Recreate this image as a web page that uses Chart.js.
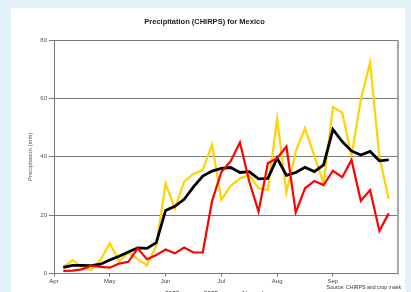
<!DOCTYPE html>
<html>
<head>
<meta charset="utf-8">
<script src="https://cdn.jsdelivr.net/npm/chart.js@4"></script>
<style>
html,body{margin:0;padding:0;overflow:hidden;background:#e1f0f9;}
#wrap{width:411px;height:292px;overflow:hidden;}
canvas{display:block;}
</style>
</head>
<body>
<div id="wrap"><canvas id="c" width="411" height="310"></canvas></div>
<script>
// pentad positions (1..36) from early April to end of September
const pentads = [1,2,3,4,5,6,7,8,9,10,11,12,13,14,15,16,17,18,19,20,21,22,23,24,25,26,27,28,29,30,31,32,33,34,35,36];
const monthTicks = [0,6,12,18,24,30];
const monthLabels = ['Apr','May','Jun','Jul','Aug','Sep'];
const yTicks = [0,20,40,60,80];

const rain2023 = [0.9,1.0,1.4,2.7,2.3,2.0,3.4,4.0,8.6,4.9,6.3,8.2,6.9,8.9,7.2,7.2,24.8,34.8,38.5,44.9,31.5,21.2,37.8,39.5,43.5,20.9,29.2,31.7,30.3,35.2,33.0,38.9,24.9,28.6,14.6,20.6];
const rain2022 = [2.3,4.6,2.2,1.2,4.6,10.4,4.2,7.1,5.0,2.8,9.5,30.9,22.2,31.5,34.1,35.5,44.1,25.2,30.0,32.6,33.8,29.2,28.6,53.0,27.8,41.8,49.8,40.3,30.9,57.0,55.1,40.3,59.5,72.3,40.0,25.5];
const rainNormal = [2.1,2.8,2.8,2.7,3.2,4.6,5.9,7.4,8.8,8.6,10.6,21.6,23.0,25.4,29.7,33.4,35.1,36.0,36.3,34.6,34.9,32.4,32.6,39.5,33.6,34.6,36.4,34.9,37.2,49.4,45.2,42.0,40.6,41.8,38.6,38.9];

const toXY = arr => arr.map((v,i)=>({x:pentads[i], y:v}));

Chart.defaults.font.family = "'Liberation Sans', Arial, sans-serif";

const bgPlugin = {
  id:'bg',
  beforeDraw(chart){
    const ctx = chart.ctx;
    ctx.save();
    ctx.fillStyle = '#e1f0f9';
    ctx.fillRect(0,0,chart.width,chart.height);
    ctx.fillStyle = '#ffffff';
    ctx.fillRect(11,8,394,chart.height-8);
    ctx.restore();
  },
  afterDraw(chart){
    const ctx = chart.ctx, a = chart.chartArea;
    ctx.save();
    ctx.strokeStyle = '#a8a8a8';
    ctx.lineWidth = 2;
    ctx.beginPath();
    ctx.moveTo(a.right, a.top);
    ctx.lineTo(a.right, a.bottom+1);
    ctx.stroke();
    ctx.fillStyle = '#333';
    ctx.font = "5.2px 'Liberation Sans', Arial, sans-serif";
    ctx.textAlign = 'right';
    ctx.textBaseline = 'middle';
    ctx.fillText('Source: CHIRPS and crop mask', 401, 288);
    ctx.restore();
  }
};

new Chart(document.getElementById('c'), {
  type:'line',
  data:{
    datasets:[
      {label:'2023', data:toXY(rain2023), borderColor:'#ff0000', backgroundColor:'#ff0000', borderWidth:2.2, pointRadius:0, tension:0, order:0},
      {label:'2022', data:toXY(rain2022), borderColor:'#ffd200', backgroundColor:'#ffd200', borderWidth:2.2, pointRadius:0, tension:0, order:2},
      {label:'Normal', data:toXY(rainNormal), borderColor:'#000000', backgroundColor:'#000000', borderWidth:2.8, pointRadius:0, tension:0, order:1}
    ]
  },
  options:{
    responsive:false,
    animation:false,
    layout:{padding:{left:11,right:13,top:14,bottom:2.5}},
    plugins:{
      title:{display:true, text:'Precipitation (CHIRPS) for Mexico', color:'#222', font:{size:7.5, weight:'bold'}, padding:{top:3.5, bottom:13.5}},
      legend:{position:'bottom', labels:{boxWidth:16, boxHeight:1, padding:5, color:'#222', font:{size:6.5}, sort:(a,b)=>a.datasetIndex-b.datasetIndex}},
      tooltip:{enabled:false}
    },
    scales:{
      x:{
        type:'linear', min:0, max:37,
        afterBuildTicks(s){ s.ticks = monthTicks.map(v=>({value:v})); },
        afterFit(s){ s.height = 12.5; },
        ticks:{callback:(v)=>monthLabels[monthTicks.indexOf(v)], color:'#444', font:{size:6}, padding:1, maxRotation:0, autoSkip:false},
        grid:{drawOnChartArea:false, drawTicks:true, tickLength:3, color:'#777'},
        border:{display:true, color:'#777', width:1}
      },
      y:{
        min:0, max:80,
        afterBuildTicks(s){ s.ticks = yTicks.map(v=>({value:v})); },
        afterFit(s){ s.width = 43; },
        ticks:{color:'#555', font:{size:6}, padding:2},
        grid:{color:'#7a7a7a', lineWidth:1, tickLength:5, tickColor:'#7a7a7a'},
        border:{display:true, color:'#777', width:1},
        title:{display:true, text:'Precipitation (mm)', color:'#555', font:{size:6}, padding:{top:15.4, bottom:0}}
      }
    }
  },
  plugins:[bgPlugin]
});
</script>
</body>
</html>
